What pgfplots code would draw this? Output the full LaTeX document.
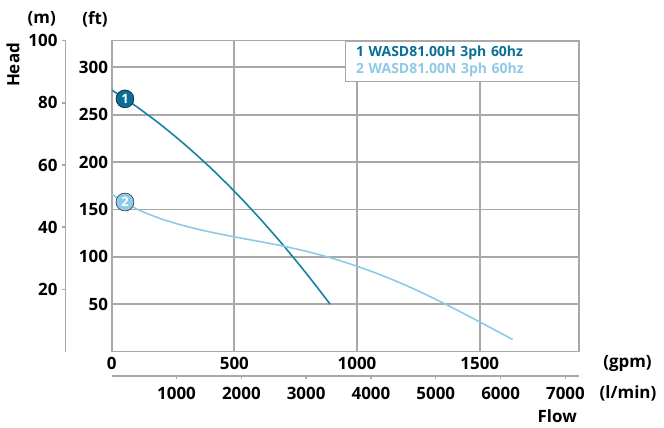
\documentclass[border=0pt]{standalone}
\usepackage{pgfplots}
\pgfplotsset{compat=1.18}
\usepackage{fontspec}
\setmainfont{Open Sans}
\definecolor{cdark}{RGB}{25,128,165}
\definecolor{cmark}{RGB}{10,110,150}
\definecolor{clight}{RGB}{142,202,232}
\definecolor{cgrid}{RGB}{168,168,168}
\newcommand\lbl{\fontsize{17}{20}\selectfont\bfseries}
\begin{document}
\begin{tikzpicture}[x=1bp,y=1bp]
\pgfplotsset{
  every axis/.append style={
    scale only axis,
    /pgf/number format/assume math mode=true,
    /pgf/number format/1000 sep={},
    tick label style={font=\lbl},
    axis line style={cgrid, line width=1.6bp},
  }
}
% m axis
\begin{axis}[at={(-46bp,0)}, anchor=south west, width=10bp, height=310.8bp,
  ymin=0, ymax=100, xmin=0, xmax=1,
  axis x line=none, axis y line*=left,
  ytick={20,40,60,80,100}, tick align=outside, major tick length=4bp,
  tick style={cgrid, line width=1.4bp},
  yticklabel style={anchor=east, inner sep=0pt, xshift=-4bp}]
\addplot[draw=none] coordinates {(0,0)};
\end{axis}
% l/min axis
\begin{axis}[at={(0,-24.2bp)}, anchor=south west, width=467bp, height=10bp,
  xmin=0, xmax=7205, ymin=0, ymax=1,
  axis y line=none, axis x line*=bottom,
  xtick={1000,2000,3000,4000,5000,6000,7000}, tick align=outside, major tick length=3.5bp,
  tick style={cgrid, line width=1.4bp},
  xticklabel style={anchor=north, inner sep=0pt, yshift=-8bp}]
\addplot[draw=none] coordinates {(0,0)};
\end{axis}
% main axis
\begin{axis}[at={(0,0)}, anchor=south west,
  width=467bp, height=310.8bp,
  xmin=0, xmax=1903.3, ymin=0, ymax=328.08,
  grid=major, grid style={cgrid, line width=1.8bp},
  major tick length=0,
  xtick={0,500,1000,1500}, ytick={50,100,150,200,250,300},
  xticklabel style={anchor=north, inner sep=0pt, yshift=-6bp},
  yticklabel style={anchor=east, inner sep=0pt, xshift=-3.5bp}]
\addplot[cdark, line width=1.6bp, smooth] coordinates {
 (0,276) (100,258.7) (200,239.4) (300,218.0) (400,194.6) (500,169.1) (600,141.5) (700,111.9) (800,80.2) (890,50)};
\addplot[clight, line width=1.6bp, smooth] coordinates {
 (0,166) (100,150.7) (200,140.2) (300,132.4) (400,126.2) (500,121) (600,116.2) (700,111.2) (800,105.3) (900,98.3) (1000,90) (1100,80.5) (1200,69.7) (1300,57.7) (1400,44.7) (1500,31.2) (1600,17.4) (1634,12.7)};
\addplot[only marks, mark=*, mark size=9bp, mark options={fill=cmark, draw=none},
  nodes near coords={1}, nodes near coords align={center},
  every node near coord/.append style={anchor=center, inner sep=0pt, text=white, font=\fontsize{13}{15}\selectfont\bfseries}]
  coordinates {(54,266.7)};
\addplot[only marks, mark=*, mark size=9bp, mark options={fill=clight, draw=none},
  nodes near coords={2}, nodes near coords align={center},
  every node near coord/.append style={anchor=center, inner sep=0pt, text=white, font=\fontsize{13}{15}\selectfont\bfseries}]
  coordinates {(54,157.8)};
\node[draw=cgrid, line width=1.2bp, fill=white, anchor=north east, text width=211bp, minimum height=40bp,
  inner xsep=11bp, inner ysep=0pt, align=left, font=\fontsize{14}{17.5}\selectfont\bfseries]
  at (rel axis cs:1,1) {\textcolor{cmark}{1 WASD81.00H 3ph 60hz}\\\textcolor{clight}{2 WASD81.00N 3ph 60hz}};
\end{axis}
\node[font=\lbl] at (-70,332.5) {(m)};
\node[font=\lbl] at (-16.7,332.5) {(ft)};
\node[font=\lbl, rotate=90] at (-98.7,286.5) {Head};
\node[font=\lbl] at (515.8,-11.5) {(gpm)};
\node[font=\lbl] at (516.3,-41.5) {(l/min)};
\node[font=\lbl, anchor=east, inner sep=0pt] at (465.3,-64.5) {Flow};
\pgfresetboundingbox
\useasboundingbox (-111.7,-75.5) rectangle (552.3,351.5);
\end{tikzpicture}
\end{document}
